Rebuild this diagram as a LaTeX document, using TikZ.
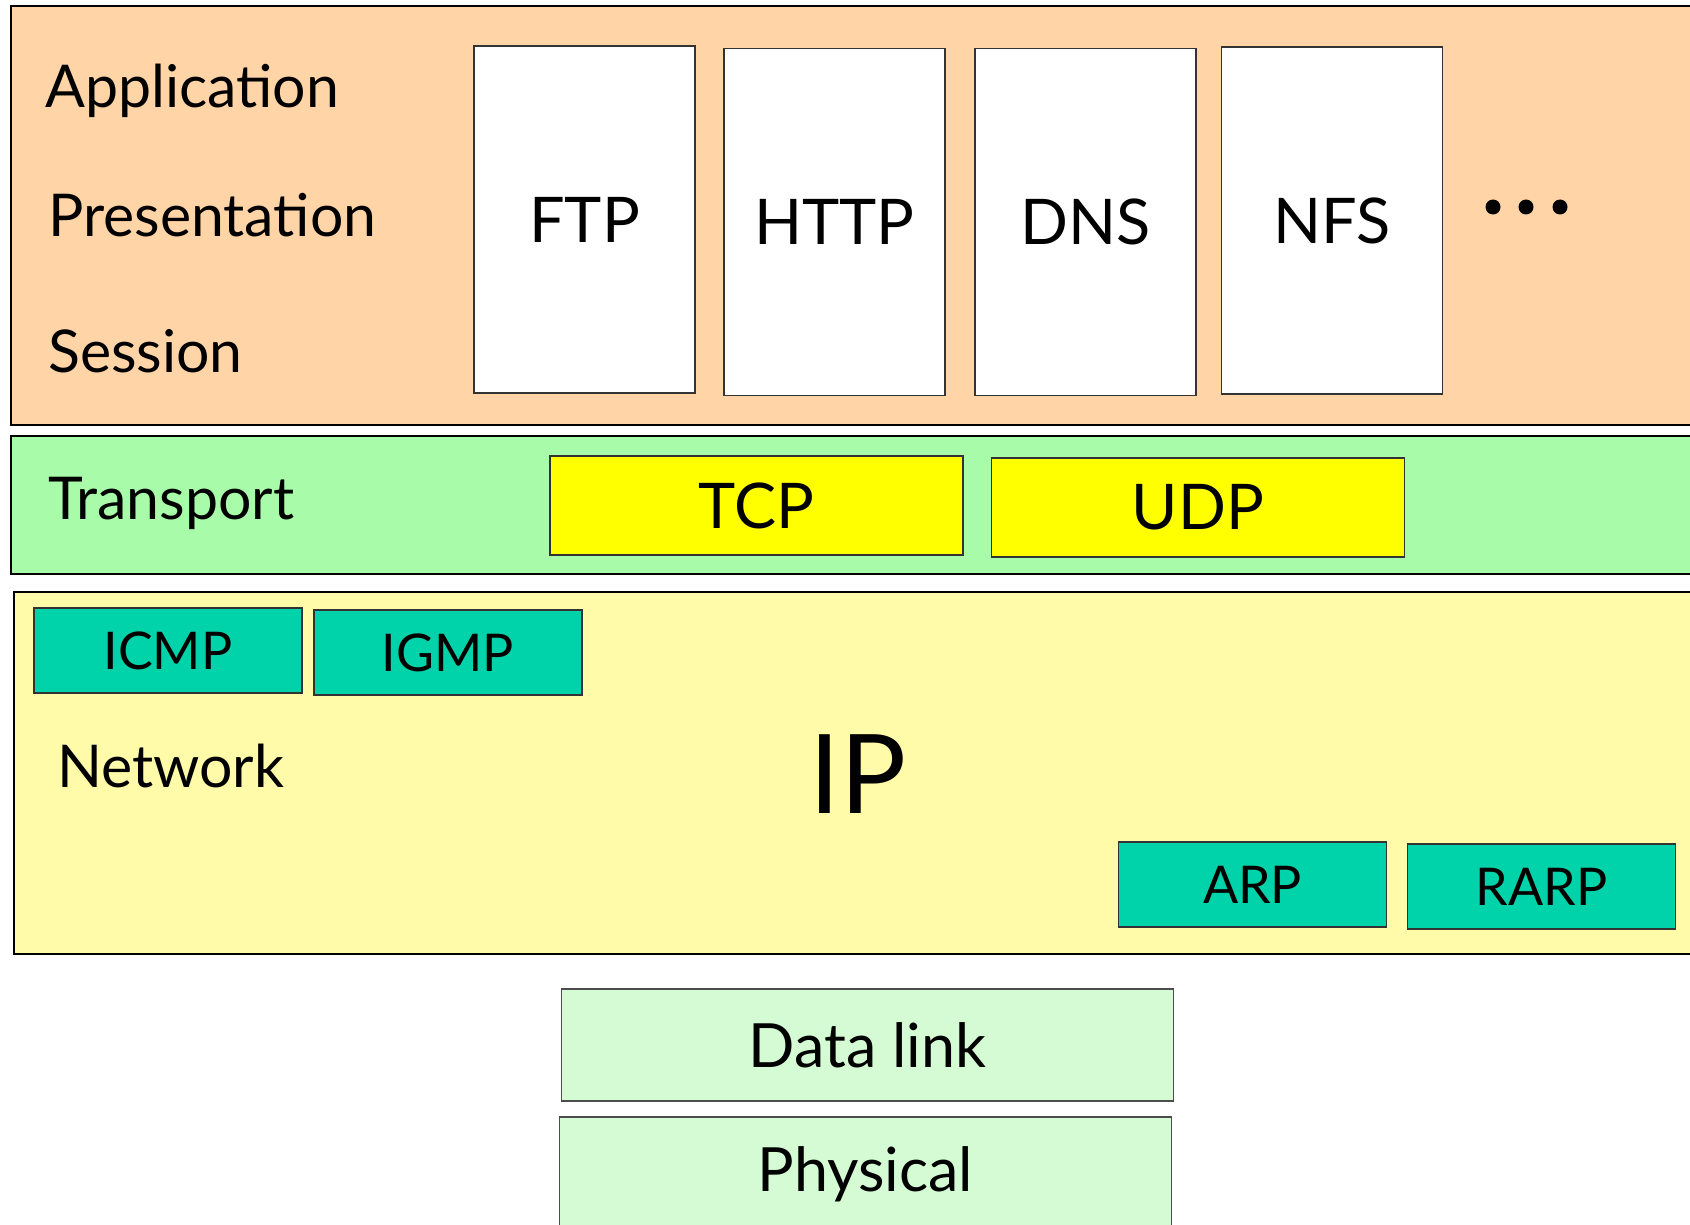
\documentclass[tikz,border=0pt]{standalone}
\usepackage{fontspec}
\setmainfont{Lato}
\usetikzlibrary{positioning}
\definecolor{appband}{RGB}{255,213,168}
\definecolor{transband}{RGB}{168,251,168}
\definecolor{netband}{RGB}{255,251,168}
\definecolor{teal}{RGB}{0,210,170}
\definecolor{tpfill}{RGB}{255,255,0}
\definecolor{linkbox}{RGB}{212,251,212}
\tikzset{
  band/.style={draw=black, line width=1.2pt},
  lbl/.style={anchor=base west, inner sep=0pt, font=\fontsize{59}{66}\selectfont},
  appbox/.style={draw=black!80, fill=white, line width=1.2pt, inner sep=0pt,
    minimum width=221pt, minimum height=347pt, font=\fontsize{63}{70}\selectfont},
  tpbox/.style={draw=black!80, fill=tpfill, line width=1.2pt, inner sep=0pt,
    minimum width=413pt, minimum height=99pt, font=\fontsize{63}{70}\selectfont},
  netbox/.style={draw=black!80, fill=teal, line width=1.2pt, inner sep=0pt,
    minimum width=268pt, minimum height=85pt, font=\fontsize{52}{58}\selectfont},
  lowbox/.style={draw=black!70, fill=linkbox, line width=1.2pt, inner sep=0pt,
    minimum width=612pt, font=\fontsize{61}{68}\selectfont}
}
\begin{document}
\begin{tikzpicture}[x=1pt, y=-1pt]
\useasboundingbox[fill=white] (0,0) rectangle (1690,1225);
% layer bands
\draw[band, fill=appband] (11,6) rectangle (1710,425);
\draw[band, fill=transband] (11,436) rectangle (1710,574);
\draw[band, fill=netband] (14,592) rectangle (1710,954);
% layer names
\node[lbl] (application) at (45,108) {Application};
\node[lbl] (presentation) at (48,237) {Presentation};
\node[lbl] (session) at (48,372) {Session};
\node[lbl] (transport) at (48,519) {Transport};
\node[lbl] (network) at (57,787) {Network};
% application protocols
\node[appbox] (ftp) at (584.5,219.5) {FTP};
\node[appbox] (http) at (834.5,222) {HTTP};
\node[appbox] (dns) at (1085.5,222) {DNS};
\node[appbox] (nfs) at (1332,220.5) {NFS};
\foreach \x in {1493,1526,1560}
  \fill (\x,207) circle (7.5pt);
% transport protocols
\node[tpbox] (tcp) at (756.5,505.5) {TCP};
\node[tpbox] (udp) at (1198,507.5) {UDP};
% network protocols
\node[netbox] (icmp) at (168,650.5) {ICMP};
\node[netbox] (igmp) at (448,652.5) {IGMP};
\node[netbox] (arp) at (1252.5,884.5) {ARP};
\node[netbox] (rarp) at (1541.5,886.5) {RARP};
\node[inner sep=0pt, font=\fontsize{110}{120}\selectfont] (ip) at (858,774) {IP};
% lower layers
\node[lowbox, minimum height=112pt] (datalink) at (867.5,1045) {Data link};
\node[lowbox, minimum height=125pt, text depth=20pt] (physical) at (865.5,1179.5) {Physical};
\end{tikzpicture}
\end{document}
